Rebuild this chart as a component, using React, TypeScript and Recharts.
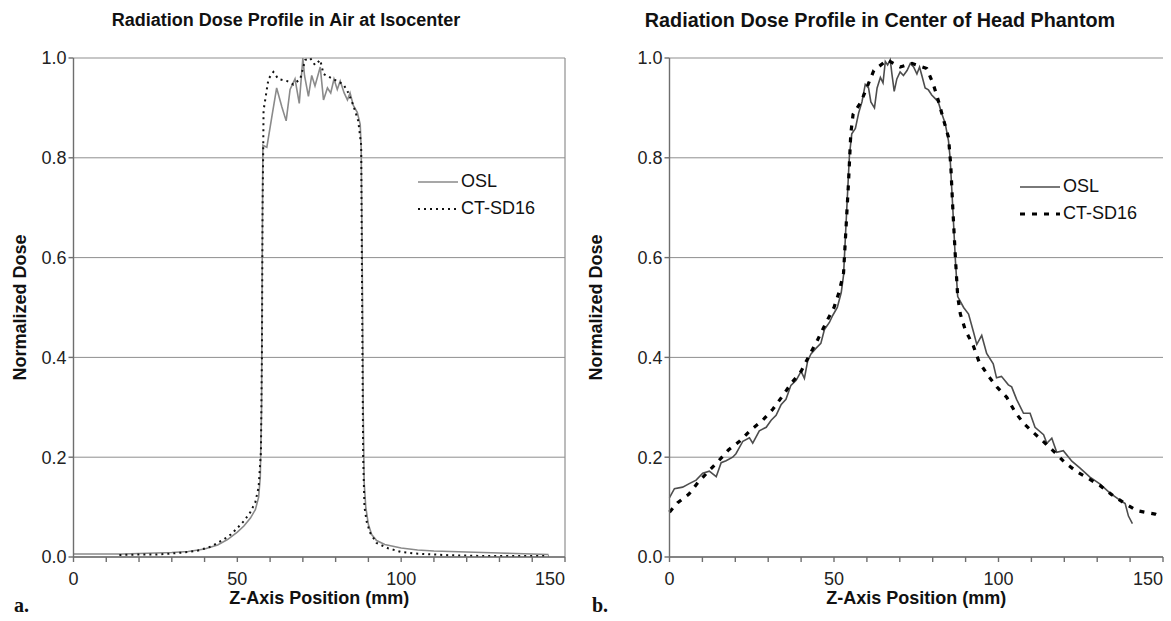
import { CartesianGrid, Label, Legend, Line, LineChart, ReferenceLine, XAxis, YAxis } from "recharts";

const font = "'Liberation Sans', Arial, sans-serif";

const zTicks = [0, 10, 20, 30, 40, 50, 60, 70, 80, 90, 100, 110, 120, 130, 140, 150];
const zLabels = [0, 50, 100, 150];
const doseTicks = [0, 0.2, 0.4, 0.6, 0.8, 1.0];

// [z (mm), normalized dose]
const airOsl: [number, number][] = [
  [0, 0.006], [5, 0.006], [10, 0.006], [15, 0.006], [20, 0.007], [25, 0.008], [30, 0.009],
  [35, 0.011], [40, 0.016], [44, 0.024], [47, 0.035], [50, 0.05], [52, 0.062], [54, 0.078],
  [55.5, 0.095], [56.5, 0.12], [57, 0.16], [57.4, 0.3], [57.6, 0.6], [57.8, 0.825], [59, 0.821],
  [60.5, 0.881], [62, 0.94], [63.6, 0.902], [64.9, 0.874], [66.1, 0.937], [67.6, 0.958],
  [68.9, 0.909], [70, 1.0], [70.5, 0.965], [71.7, 0.923], [72.7, 0.965], [73.7, 0.944],
  [75.3, 0.982], [76.3, 0.916], [77.5, 0.94], [78.5, 0.93], [79.5, 0.958], [80.5, 0.937],
  [81.4, 0.954], [82.6, 0.93], [83.6, 0.916], [84.4, 0.93], [85.4, 0.905], [86.6, 0.891],
  [87.5, 0.867], [87.8, 0.818], [88.1, 0.6], [88.4, 0.3], [88.7, 0.15], [89.2, 0.1], [90, 0.065],
  [91, 0.045], [92.5, 0.033], [95, 0.025], [100, 0.018], [105, 0.014], [110, 0.012], [115, 0.011],
  [120, 0.01], [125, 0.009], [130, 0.008], [135, 0.007], [140, 0.006], [145, 0.005],
];

const airCt: [number, number][] = [
  [14, 0.004], [20, 0.005], [25, 0.005], [30, 0.007], [35, 0.01], [38, 0.013], [42, 0.021],
  [46, 0.036], [48, 0.045], [50, 0.058], [52, 0.072], [54, 0.09], [55.5, 0.11], [56.5, 0.14],
  [57.2, 0.21], [57.5, 0.4], [57.7, 0.7], [57.9, 0.82], [58, 0.895], [59, 0.937], [59.5, 0.958],
  [61, 0.972], [62.5, 0.958], [65.1, 0.954], [67.1, 0.947], [69.2, 0.958], [70.7, 0.996],
  [72.2, 1.0], [73.7, 0.986], [75.3, 0.996], [76.3, 0.968], [78.3, 0.961], [80.4, 0.954],
  [82.4, 0.947], [83.9, 0.93], [85.4, 0.905], [86.9, 0.874], [87.8, 0.825], [88.1, 0.5],
  [88.4, 0.2], [88.8, 0.1], [89.5, 0.07], [90.5, 0.049], [92.5, 0.028], [96, 0.0175], [100, 0.01],
  [104, 0.007], [110, 0.005], [115, 0.0035], [125, 0.002], [135, 0.002], [145, 0.002],
];

const headOsl: [number, number][] = [
  [0, 0.119], [1.5, 0.137], [4, 0.14], [6, 0.147], [8.1, 0.154], [10.1, 0.168], [12.1, 0.172],
  [14.2, 0.161], [15.7, 0.189], [17.2, 0.193], [19.2, 0.2], [20.2, 0.207], [22.3, 0.232],
  [24.3, 0.239], [25.3, 0.228], [27.3, 0.253], [29.4, 0.26], [30.9, 0.274], [32.4, 0.284],
  [33.9, 0.305], [35.4, 0.316], [36.9, 0.344], [38.5, 0.354], [40, 0.372], [41, 0.358],
  [42, 0.393], [43, 0.407], [44.5, 0.418], [46, 0.428], [47.1, 0.456], [48.6, 0.47],
  [49.6, 0.484], [51, 0.5], [52.2, 0.53], [52.9, 0.565], [53.9, 0.7], [54.7, 0.806],
  [55.4, 0.848], [56.5, 0.859], [57.5, 0.89], [58.5, 0.912], [59.5, 0.947], [60.5, 0.94],
  [61.2, 0.912], [62.3, 0.9], [63.1, 0.94], [64.1, 0.961], [64.9, 0.95], [65.6, 0.993],
  [66.3, 0.986], [67.1, 0.996], [67.6, 0.968], [68.3, 0.933], [69.1, 0.958], [70.1, 0.972],
  [71.1, 0.965], [72.2, 0.975], [73.2, 0.989], [74.2, 0.982], [75.2, 0.968], [76, 0.982],
  [76.7, 0.965], [77.7, 0.94], [78.7, 0.936], [79.7, 0.926], [80.7, 0.919], [81.7, 0.912],
  [82.7, 0.89], [83.8, 0.869], [84.8, 0.834], [85.3, 0.799], [86.1, 0.7], [86.9, 0.594],
  [87.6, 0.522], [89.4, 0.5], [90.9, 0.487], [92.4, 0.451], [93.4, 0.426], [94.9, 0.444],
  [96.4, 0.408], [98.4, 0.387], [99.4, 0.359], [100.9, 0.362], [103, 0.345], [104, 0.341],
  [105.5, 0.316], [107.6, 0.288], [109.6, 0.288], [111.1, 0.26], [113.7, 0.245], [114.7, 0.228],
  [116.2, 0.238], [117.7, 0.21], [119.7, 0.213], [122.3, 0.192], [124.8, 0.178], [127.8, 0.16],
  [130.9, 0.146], [133.9, 0.128], [136.9, 0.114], [138.5, 0.107], [139.5, 0.082], [140.7, 0.067],
];

const headCt: [number, number][] = [
  [0, 0.09], [2.5, 0.109], [5.9, 0.126], [8.6, 0.149], [11.6, 0.17], [14.7, 0.191], [18, 0.215],
  [21.3, 0.232], [24.6, 0.254], [28.3, 0.274], [31.4, 0.296], [34.4, 0.323], [36.9, 0.347],
  [40, 0.372], [42.5, 0.404], [45, 0.435], [47.6, 0.47], [50, 0.5], [51.5, 0.53], [52.9, 0.569],
  [54.4, 0.749], [55.1, 0.848], [55.8, 0.887], [58.2, 0.912], [62.1, 0.975], [66.2, 0.996],
  [70.1, 0.982], [73.7, 0.989], [78.2, 0.979], [80.2, 0.947], [81.7, 0.915], [83.3, 0.876],
  [84.8, 0.841], [85.5, 0.784], [86.1, 0.7], [86.9, 0.6], [87.6, 0.522], [88.4, 0.487],
  [89.9, 0.455], [92.3, 0.424], [94.1, 0.391], [97, 0.362], [99.5, 0.341], [102.5, 0.32],
  [105, 0.291], [107.6, 0.268], [110.7, 0.249], [114.2, 0.228], [117.2, 0.209], [120.2, 0.189],
  [123.8, 0.171], [127.4, 0.157], [130.9, 0.143], [134.4, 0.125], [138, 0.109], [142, 0.093],
  [145, 0.089], [147.6, 0.086], [149.5, 0.08],
];

const rows = (pts: [number, number][]) => pts.map(([z, dose]) => ({ z, dose }));

type Series = { name: string; points: [number, number][]; color: string; width: number; dash?: string };

const airSeries: Series[] = [
  { name: "OSL", points: airOsl, color: "#8a8a8a", width: 1.6 },
  { name: "CT-SD16", points: airCt, color: "#111", width: 2, dash: "2 4" },
];

const headSeries: Series[] = [
  { name: "OSL", points: headOsl, color: "#4d4d4d", width: 1.6 },
  { name: "CT-SD16", points: headCt, color: "#000", width: 3.2, dash: "5 7" },
];

const LegendBox = ({ items }: { items: Series[] }) => (
  <div style={{ fontFamily: font, fontSize: 18, color: "#111" }}>
    {items.map((s) => (
      <div key={s.name} style={{ display: "flex", alignItems: "center", height: 27 }}>
        <svg width={40} height={10}>
          <line x1={0} y1={5} x2={40} y2={5} stroke={s.color} strokeWidth={s.width} strokeDasharray={s.dash} />
        </svg>
        <span style={{ marginLeft: 3 }}>{s.name}</span>
      </div>
    ))}
  </div>
);

// last label sits inside the plot edge, as in the original
const ZTick = ({ x, y, payload }: any) => {
  const v = payload?.value;
  if (!zLabels.includes(v)) return <g />;
  return (
    <text
      x={x}
      y={y}
      dy="0.71em"
      textAnchor={v === 150 ? "end" : "middle"}
      fill="#222"
      fontSize={18}
      fontFamily={font}
    >
      {v}
    </text>
  );
};

type PanelProps = {
  series: Series[];
  width: number;
  yAxisWidth: number;
  marginLeft: number;
  marginRight: number;
  legendLeft: number;
  legendTop: number;
  frame: boolean;
};

const Panel = ({ series, width, yAxisWidth, marginLeft, marginRight, legendLeft, legendTop, frame }: PanelProps) => (
  <LineChart width={width} height={621} margin={{ top: 58, right: marginRight, bottom: 4, left: marginLeft }}>
    <CartesianGrid vertical={false} stroke="#8f8f8f" strokeWidth={1} />
    <XAxis
      type="number"
      dataKey="z"
      domain={[0, 150]}
      ticks={zTicks}
      interval={0}
      height={60}
      stroke="#6e6e6e"
      strokeWidth={1.4}
      tickSize={5}
      tickMargin={10}
      tick={<ZTick />}
    >
      <Label
        value="Z-Axis Position (mm)"
        position="insideBottom"
        offset={12.6}
        style={{ fontFamily: font, fontSize: 18, fontWeight: 700, fill: "#111" }}
      />
    </XAxis>
    <YAxis
      type="number"
      domain={[0, 1]}
      ticks={doseTicks}
      interval={0}
      tickFormatter={(v: number) => v.toFixed(1)}
      width={yAxisWidth}
      stroke="#6e6e6e"
      strokeWidth={1.4}
      tickSize={5}
      tickMargin={2}
      tick={{ fill: "#222", fontSize: 18, fontFamily: font }}
    >
      <Label
        value="Normalized Dose"
        angle={-90}
        position="insideLeft"
        offset={6.5}
        style={{ textAnchor: "middle", fontFamily: font, fontSize: 18, fontWeight: 700, fill: "#111" }}
      />
    </YAxis>
    {frame && <ReferenceLine x={150} stroke="#8f8f8f" strokeWidth={1.2} />}
    {series.map((s) => (
      <Line
        key={s.name}
        data={rows(s.points)}
        dataKey="dose"
        name={s.name}
        type="linear"
        stroke={s.color}
        strokeWidth={s.width}
        strokeDasharray={s.dash}
        dot={false}
        activeDot={false}
        isAnimationActive={false}
      />
    ))}
    <Legend
      layout="vertical"
      align="center"
      verticalAlign="middle"
      content={() => <LegendBox items={series} />}
      wrapperStyle={{ left: legendLeft, top: legendTop, width: "auto" }}
    />
  </LineChart>
);

const titleStyle = {
  position: "absolute" as const,
  top: 10,
  fontFamily: font,
  fontWeight: 700,
  color: "#111",
  whiteSpace: "nowrap" as const,
  transform: "translateX(-50%)",
};

const tagStyle = {
  position: "absolute" as const,
  top: 594,
  fontFamily: "'Liberation Serif', 'DejaVu Serif', serif",
  fontSize: 20,
  fontWeight: 700,
  color: "#111",
};

export default function App() {
  return (
    <div style={{ position: "absolute", left: 0, top: 0, width: 1171, height: 621, background: "#fff" }}>
      <div style={{ ...titleStyle, left: 286, fontSize: 18 }}>Radiation Dose Profile in Air at Isocenter</div>
      <div style={{ ...titleStyle, left: 880, top: 9, fontSize: 19.8 }}>Radiation Dose Profile in Center of Head Phantom</div>
      <div style={{ position: "absolute", left: 0, top: 0 }}>
        <Panel series={airSeries} width={585} yAxisWidth={60} marginLeft={13.5} marginRight={20} legendLeft={418} legendTop={168} frame />
      </div>
      <div style={{ position: "absolute", left: 585, top: 0 }}>
        <Panel series={headSeries} width={586} yAxisWidth={80} marginLeft={4.5} marginRight={8} legendLeft={435} legendTop={173} frame={false} />
      </div>
      <div style={{ ...tagStyle, left: 14 }}>a.</div>
      <div style={{ ...tagStyle, left: 592 }}>b.</div>
    </div>
  );
}
